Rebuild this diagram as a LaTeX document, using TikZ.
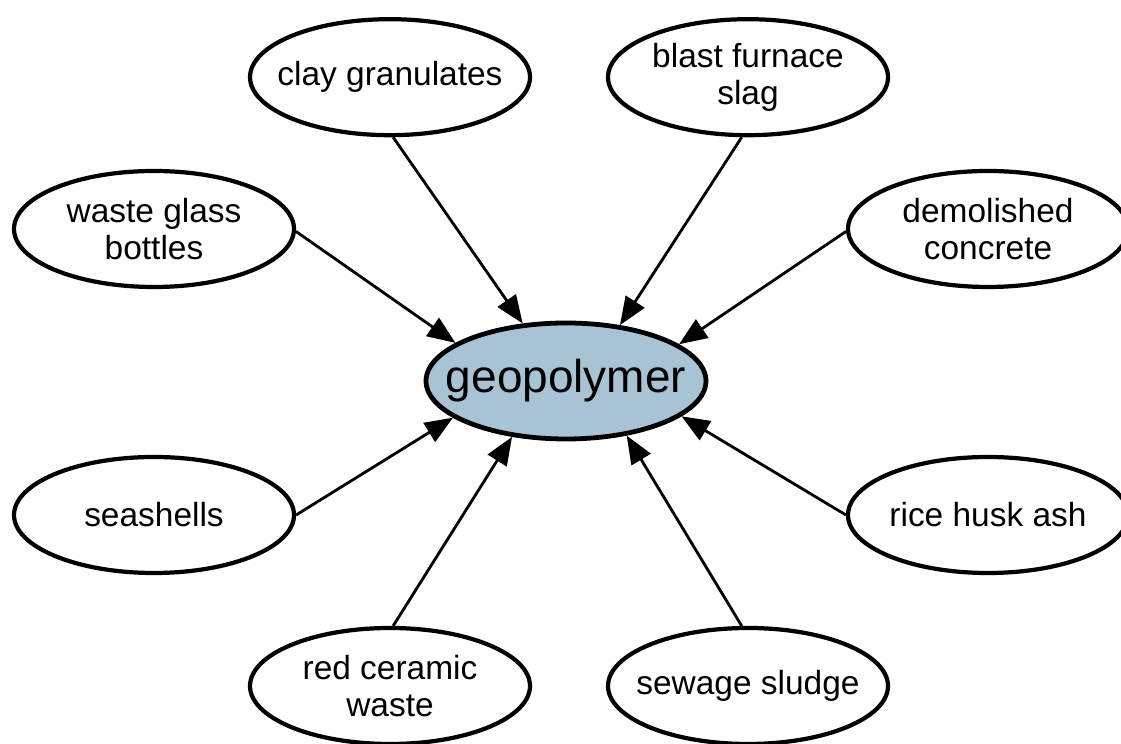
\documentclass[tikz,border=0pt]{standalone}
\usepackage{fontspec}
\setmainfont{Liberation Sans}
\usetikzlibrary{shapes.geometric,arrows.meta}
\definecolor{geoblue}{RGB}{168,196,212}
\begin{document}
\begin{tikzpicture}
		[every node/.style={ellipse,draw,line width=3pt,inner xsep=-1cm,inner ysep=0pt,
			minimum width=7cm,minimum height=2.9cm,align=center,
			font=\fontsize{23.8}{26.5}\selectfont},
		feed/.style={line width=2pt,-{Triangle[length=7mm,width=5.5mm]}}]
		\useasboundingbox (0,0) rectangle (28.025,18.6);
		\node (geo) [fill=geoblue,line width=3.4pt,font=\fontsize{32.7}{36}\selectfont] at (14.15,9.075) {geopolymer};
		\node (clay) at (9.75,16.67) {clay granulates};
		\node (slag) at (18.7,16.67) {blast furnace\\slag};
		\node (glass) at (3.85,12.875) {waste glass\\bottles};
		\node (concrete) at (24.7,12.875) {demolished\\concrete};
		\node (shells) at (3.85,5.725) {seashells};
		\node (husk) at (24.7,5.725) {rice husk ash};
		\node (ceramic) at (9.75,1.45) {red ceramic\\waste};
		\node (sludge) at (18.7,1.45) {sewage sludge};
		\draw [feed] (clay.273) -- (geo.127);
		\draw [feed] (slag.264) -- (geo.46);
		\draw [feed] (glass.-1) -- (geo.161);
		\draw [feed] (concrete.181) -- (geo.18);
		\draw [feed] (shells.0) -- (geo.198);
		\draw [feed] (husk.180) -- (geo.343);
		\draw [feed] (ceramic.87) -- (geo.226);
		\draw [feed] (sludge.96) -- (geo.318);
	\end{tikzpicture}
\end{document}
